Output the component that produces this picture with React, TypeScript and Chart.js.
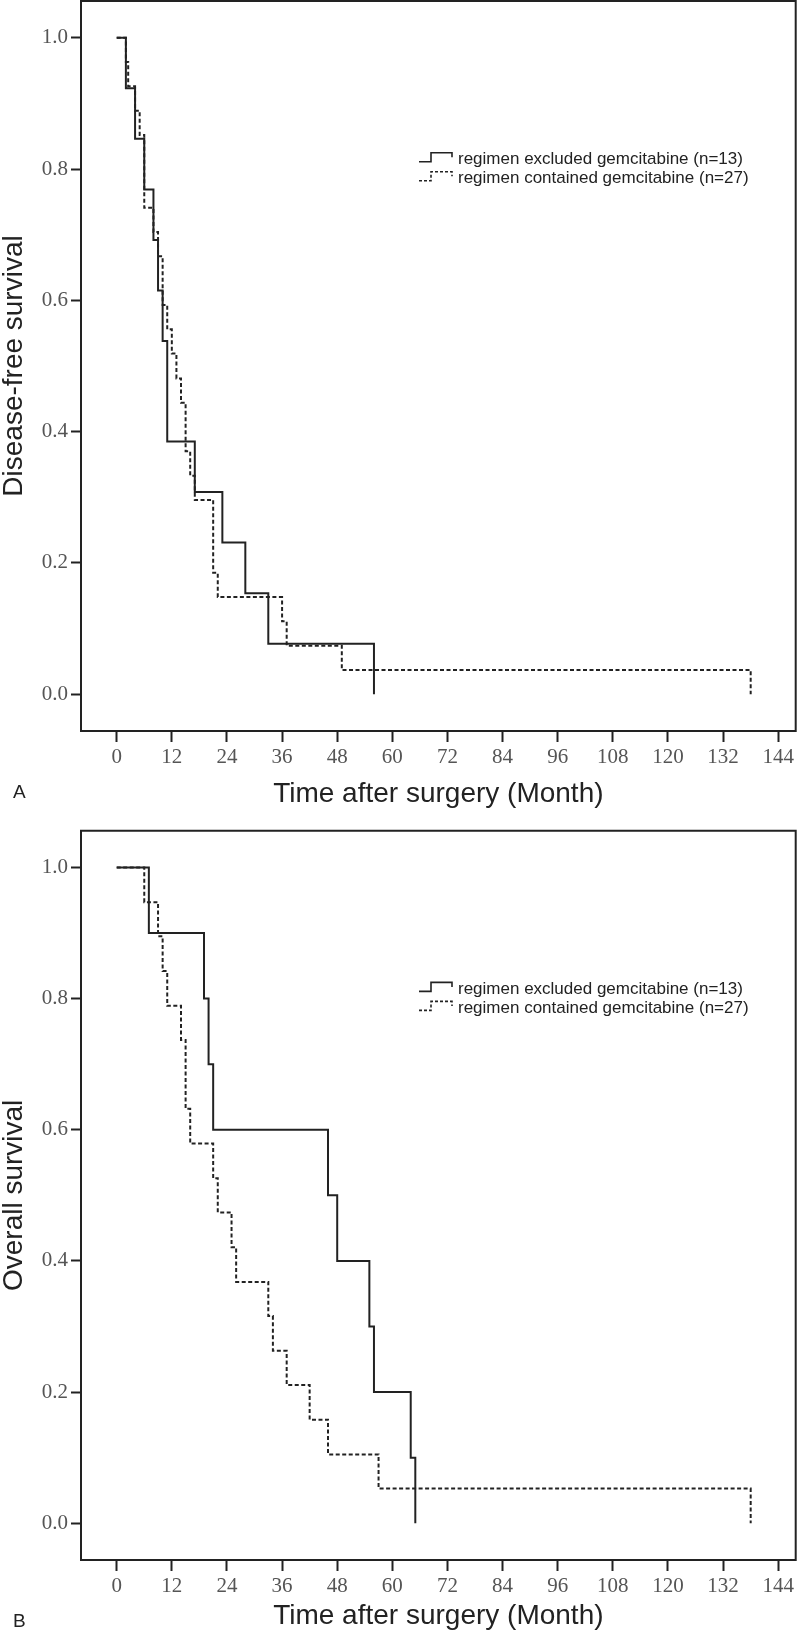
import React, { useEffect, useRef } from "react";
import { Chart, registerables } from "chart.js";

Chart.register(...registerables);

// ---------- data ----------
const xTickValues = [0, 12, 24, 36, 48, 60, 72, 84, 96, 108, 120, 132, 144];
const yTickValues = [0.0, 0.2, 0.4, 0.6, 0.8, 1.0];
const legendLabels = [
  "regimen excluded gemcitabine (n=13)",
  "regimen contained gemcitabine (n=27)",
];
const xAxisTitle = "Time after surgery (Month)";

// Panel A: disease-free survival
const dfsExclTime = [0, 2, 4, 6, 8, 9, 10, 11, 17, 23, 28, 33, 56];
const dfsExclSurv = [1.0, 0.923, 0.846, 0.769, 0.692, 0.615, 0.538, 0.385, 0.308, 0.231, 0.154, 0.077, 0.0];
const dfsContTime = [0, 2, 2.5, 4, 5, 6, 8, 9, 10, 11, 12, 13, 14, 15, 16, 17, 21, 22, 36, 37, 49, 138];
const dfsContSurv = [1.0, 0.963, 0.926, 0.889, 0.852, 0.741, 0.704, 0.667, 0.593, 0.556, 0.519, 0.481, 0.444, 0.37, 0.333, 0.296, 0.185, 0.148, 0.111, 0.074, 0.037, 0.0];

// Panel B: overall survival
const osExclTime = [0, 7, 19, 20, 21, 46, 48, 55, 56, 64, 65];
const osExclSurv = [1.0, 0.9, 0.8, 0.7, 0.6, 0.5, 0.4, 0.3, 0.2, 0.1, 0.0];
const osContTime = [0, 6, 9, 10, 11, 14, 15, 16, 21, 22, 25, 26, 33, 34, 37, 42, 46, 57, 138];
const osContSurv = [1.0, 0.947, 0.895, 0.842, 0.789, 0.737, 0.632, 0.579, 0.526, 0.474, 0.421, 0.368, 0.316, 0.263, 0.211, 0.158, 0.105, 0.053, 0.0];

// ---------- styling / layout ----------
const INK = "#222";
const SANS = "'Liberation Sans', Arial, sans-serif";
const SERIF = "'Liberation Serif', 'Times New Roman', serif";

type Panel = {
  letter: string;
  yTitle: string;
  excl: { t: number[]; s: number[] };
  cont: { t: number[]; s: number[] };
  height: number;
  padTop: number;
  xAxisH: number;
  xTitlePad: number;
};

const panels: Panel[] = [
  {
    letter: "A",
    yTitle: "Disease-free survival",
    excl: { t: dfsExclTime, s: dfsExclSurv },
    cont: { t: dfsContTime, s: dfsContSurv },
    height: 815,
    padTop: 1,
    xAxisH: 84,
    xTitlePad: 7,
  },
  {
    letter: "B",
    yTitle: "Overall survival",
    excl: { t: osExclTime, s: osExclSurv },
    cont: { t: osContTime, s: osContSurv },
    height: 824,
    padTop: 15.7,
    xAxisH: 79,
    xTitlePad: 9,
  },
];

const framePlugin = {
  id: "frame",
  afterDraw(chart: any) {
    const { ctx, chartArea: a } = chart;
    ctx.save();
    ctx.strokeStyle = INK;
    ctx.lineWidth = 2;
    ctx.beginPath();
    ctx.moveTo(a.left - 1, a.top);
    ctx.lineTo(a.right, a.top);
    ctx.lineTo(a.right, a.bottom + 1);
    ctx.stroke();
    ctx.restore();
  },
};

function makeLegendPlugin(letter: string) {
  return {
    id: "kmLegend",
    afterDraw(chart: any) {
      const { ctx, chartArea: a } = chart;
      ctx.save();
      ctx.strokeStyle = INK;
      ctx.fillStyle = INK;
      ctx.lineWidth = 1.6;
      const symX0 = 419;
      const symX1 = 431;
      const symX2 = 452;
      const textX = 458;
      const baselines = [a.top + 163, a.top + 182];
      chart.data.datasets.forEach((ds: any, i: number) => {
        const b = baselines[i];
        ctx.setLineDash(i === 1 ? [3, 2] : []);
        ctx.beginPath();
        ctx.moveTo(symX0, b - 2.3);
        ctx.lineTo(symX1, b - 2.3);
        ctx.lineTo(symX1, b - 11.3);
        ctx.lineTo(symX2, b - 11.3);
        ctx.lineTo(symX2, b - 6.7);
        ctx.stroke();
        ctx.setLineDash([]);
        ctx.font = `17px ${SANS}`;
        ctx.textBaseline = "alphabetic";
        ctx.textAlign = "left";
        ctx.fillText(ds.label, textX, b);
      });
      ctx.font = `19px ${SANS}`;
      ctx.fillText(letter, 13, a.bottom + 67);
      ctx.restore();
    },
  };
}

function makeConfig(p: Panel): any {
  const toPts = (t: number[], s: number[]) => t.map((x, i) => ({ x, y: s[i] }));
  return {
    type: "line",
    data: {
      datasets: [
        {
          label: legendLabels[0],
          data: toPts(p.excl.t, p.excl.s),
          stepped: true,
          borderColor: INK,
          borderWidth: 2,
          pointRadius: 0,
          fill: false,
        },
        {
          label: legendLabels[1],
          data: toPts(p.cont.t, p.cont.s),
          stepped: true,
          borderColor: INK,
          borderWidth: 2,
          borderDash: [4, 2.5],
          pointRadius: 0,
          fill: false,
        },
      ],
    },
    options: {
      animation: false,
      responsive: false,
      devicePixelRatio: 1,
      events: [],
      layout: { padding: { top: p.padTop, right: 4.3, left: 0, bottom: 0 } },
      plugins: { legend: { display: false }, tooltip: { enabled: false } },
      scales: {
        x: {
          type: "linear",
          min: -7.77,
          max: 147.8,
          afterBuildTicks: (axis: any) => {
            axis.ticks = xTickValues.map((v) => ({ value: v }));
          },
          afterFit: (s: any) => {
            s.height = p.xAxisH;
            s.paddingLeft = 0;
            s.paddingRight = 0;
            s.paddingTop = 0;
            s.paddingBottom = 0;
          },
          grid: {
            drawOnChartArea: false,
            drawTicks: true,
            tickLength: 11,
            tickWidth: 2,
            tickColor: INK,
            color: INK,
          },
          border: { display: true, color: INK, width: 2 },
          ticks: {
            font: { family: SERIF, size: 21 },
            color: "#555",
            padding: 2.5,
            maxRotation: 0,
            autoSkip: false,
            callback: (v: any) => String(v),
          },
          title: {
            display: true,
            text: xAxisTitle,
            color: INK,
            font: { family: SANS, size: 28, lineHeight: 1 },
            padding: { top: 0, bottom: p.xTitlePad },
          },
        },
        y: {
          type: "linear",
          min: -0.056,
          max: 1.056,
          afterBuildTicks: (axis: any) => {
            axis.ticks = yTickValues.map((v) => ({ value: v }));
          },
          afterFit: (s: any) => {
            s.width = 81;
            s.paddingLeft = 0;
            s.paddingRight = 0;
            s.paddingTop = 0;
            s.paddingBottom = 0;
          },
          grid: {
            drawOnChartArea: false,
            drawTicks: true,
            tickLength: 10,
            tickWidth: 2,
            tickColor: INK,
            color: INK,
          },
          border: { display: true, color: INK, width: 2 },
          ticks: {
            font: { family: SERIF, size: 21 },
            color: "#555",
            padding: 3,
            autoSkip: false,
            callback: (v: any) => Number(v).toFixed(1),
          },
          title: {
            display: true,
            text: p.yTitle,
            color: INK,
            font: { family: SANS, size: 28, lineHeight: 1 },
            padding: { top: 0, bottom: 0 },
          },
        },
      },
    },
    plugins: [framePlugin, makeLegendPlugin(p.letter)],
  };
}

function KMPanel({ panel }: { panel: Panel }) {
  const ref = useRef<HTMLCanvasElement | null>(null);
  useEffect(() => {
    if (!ref.current) return;
    const chart = new Chart(ref.current, makeConfig(panel));
    return () => chart.destroy();
  }, [panel]);
  return (
    <canvas
      ref={ref}
      width={800}
      height={panel.height}
      style={{ display: "block", width: 800, height: panel.height }}
    />
  );
}

export default function App() {
  return (
    <div style={{ position: "absolute", left: 0, top: 0, width: 800, background: "#fff" }}>
      {panels.map((p) => (
        <KMPanel key={p.letter} panel={p} />
      ))}
    </div>
  );
}
